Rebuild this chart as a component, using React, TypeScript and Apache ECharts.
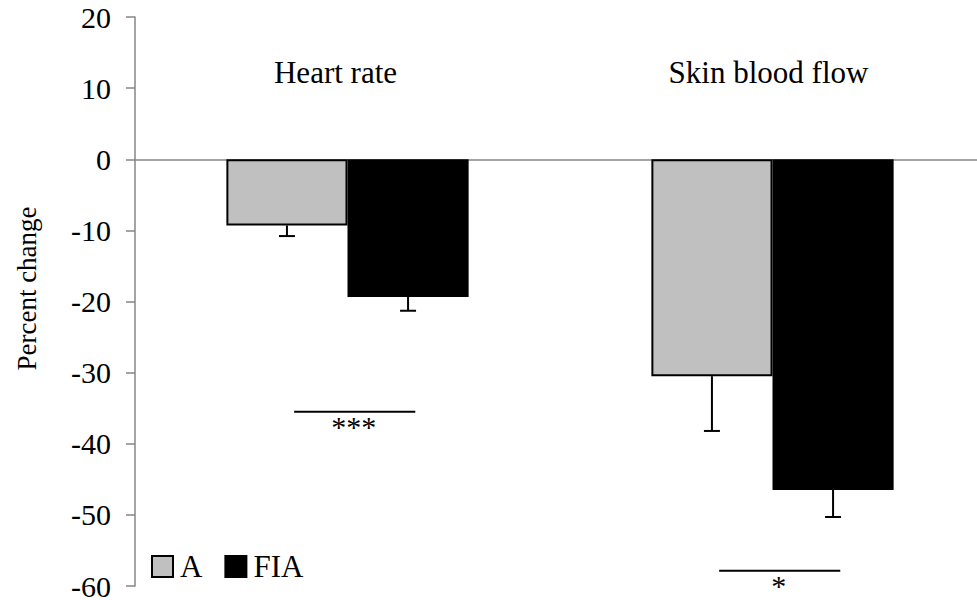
import React, { useEffect, useRef } from "react";
import * as echarts from "echarts";

const categories = ["Heart rate", "Skin blood flow"];
const seriesNames = ["A", "FIA"];
const aValues = [-9.3, -30.5];
const fiaValues = [-19.35, -46.5];
const aErrors = [1.5, 7.7];
const fiaErrors = [1.95, 3.8];
const sigLevels = [-35.5, -57.85];
const sigLabels = ["***", "*"];
const yTicks = { min: -60, max: 20, interval: 10 };

const FONT = '"Liberation Serif", "Times New Roman", serif';
const BAR_RATIO = 0.285;

function errorRenderer(side: number) {
  return (params: any, api: any) => {
    const cat = api.value(0);
    const top = api.coord([cat, api.value(1)]);
    const bot = api.coord([cat, api.value(2)]);
    const catW = api.size([1, 0])[0];
    const bw = catW * BAR_RATIO;
    const x = top[0] + (side * bw) / 2;
    const style = { stroke: "#000", lineWidth: 2 };
    return {
      type: "group",
      children: [
        { type: "line", shape: { x1: x, y1: top[1], x2: x, y2: bot[1] }, style },
        { type: "line", shape: { x1: x - 8, y1: bot[1], x2: x + 8, y2: bot[1] }, style },
      ],
    };
  };
}

function sigRenderer(params: any, api: any) {
  const cat = api.value(0);
  const p = api.coord([cat, api.value(1)]);
  const catW = api.size([1, 0])[0];
  const bw = catW * BAR_RATIO;
  const cx = p[0] + catW * 0.017;
  return {
    type: "group",
    children: [
      {
        type: "line",
        shape: { x1: cx - bw / 2, y1: p[1], x2: cx + bw / 2, y2: p[1] },
        style: { stroke: "#000", lineWidth: 2 },
      },
      {
        type: "text",
        x: cx - 1,
        y: p[1] + 3,
        style: {
          text: sigLabels[params.dataIndex],
          fontFamily: FONT,
          fontSize: 30,
          lineHeight: 24,
          fill: "#000",
          align: "center",
          verticalAlign: "top",
        },
      },
    ],
  };
}

export default function App() {
  const ref = useRef<HTMLDivElement>(null);
  useEffect(() => {
    if (!ref.current) return;
    const chart = echarts.init(ref.current, null, { renderer: "svg" });
    const aErrData = aValues.map((v, i) => [i, v, v - aErrors[i]]);
    const fiaErrData = fiaValues.map((v, i) => [i, v, v - fiaErrors[i]]);
    const sigData = sigLevels.map((v, i) => [i, v]);
    chart.setOption({
      animation: false,
      backgroundColor: "#fff",
      textStyle: { fontFamily: FONT, color: "#000" },
      grid: { left: 135, right: -8, top: 17, bottom: 14, outerBoundsMode: "none", containLabel: false },
      legend: {
        data: seriesNames,
        left: 151,
        top: 551,
        padding: 0,
        icon: "rect",
        itemWidth: 21,
        itemHeight: 21,
        itemGap: 22,
        textStyle: { fontFamily: FONT, fontSize: 31, color: "#000", padding: [0, 0, 0, 2] },
        itemStyle: { borderColor: "#000", borderWidth: 2 },
      },
      xAxis: [
        {
          type: "category",
          data: categories,
          axisLine: { onZero: true, lineStyle: { color: "#868686", width: 1.5 } },
          axisTick: { show: false },
          axisLabel: { show: false },
          splitLine: { show: false },
        },
        {
          type: "category",
          data: categories,
          position: "top",
          axisLine: { show: false },
          axisTick: { show: false },
          splitLine: { show: false },
          axisLabel: {
            inside: true,
            margin: 40,
            fontFamily: FONT,
            fontSize: 31,
            color: "#000",
            formatter: (v: string, i: number) => (i === 0 ? "{a|" + v + "}" : "{b|" + v + "}"),
            rich: {
              a: { fontFamily: FONT, fontSize: 31, color: "#000", padding: [0, 24, 0, 0] },
              b: { fontFamily: FONT, fontSize: 31, color: "#000", padding: [0, 8, 0, 0] },
            },
          },
        },
      ],
      yAxis: {
        type: "value",
        min: yTicks.min,
        max: yTicks.max,
        interval: yTicks.interval,
        name: "Percent change",
        nameLocation: "middle",
        nameRotate: 90,
        nameGap: 95,
        nameTextStyle: { fontFamily: FONT, fontSize: 27, color: "#000", padding: [0, 0, 0, 26] },
        axisLine: { show: true, lineStyle: { color: "#868686", width: 1.5 } },
        axisTick: { show: true, inside: false, length: 9, lineStyle: { color: "#868686", width: 1.5 } },
        axisLabel: { margin: 24, fontFamily: FONT, fontSize: 30, lineHeight: 24, color: "#000" },
        splitLine: { show: false },
      },
      series: [
        {
          name: seriesNames[0],
          type: "bar",
          data: aValues,
          barWidth: BAR_RATIO * 100 + "%",
          barGap: "0%",
          itemStyle: { color: "#c0c0c0", borderColor: "#000", borderWidth: 2 },
          z: 2,
        },
        {
          name: seriesNames[1],
          type: "bar",
          data: fiaValues,
          barWidth: BAR_RATIO * 100 + "%",
          barGap: "0%",
          itemStyle: { color: "#000", borderColor: "#000", borderWidth: 2 },
          z: 2,
        },
        {
          type: "custom",
          renderItem: errorRenderer(-1),
          data: aErrData,
          clip: false,
          z: 3,
          silent: true,
        },
        {
          type: "custom",
          renderItem: errorRenderer(1),
          data: fiaErrData,
          clip: false,
          z: 3,
          silent: true,
        },
        {
          type: "custom",
          renderItem: sigRenderer,
          data: sigData,
          clip: false,
          z: 3,
          silent: true,
        },
      ],
    });
    return () => chart.dispose();
  }, []);
  return (
    <div
      ref={ref}
      style={{ position: "fixed", left: 0, top: 0, width: 977, height: 600, background: "#fff" }}
    />
  );
}
